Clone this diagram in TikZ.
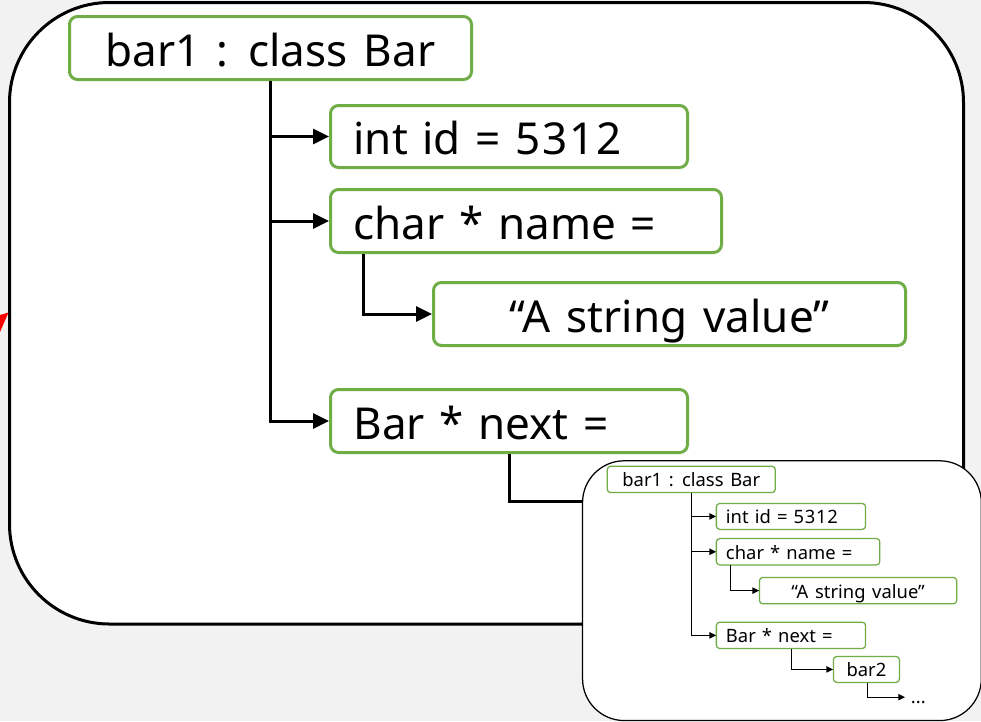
\documentclass[tikz,border=0pt]{standalone}
\usepackage{fontspec}
\setmainfont{Noto Sans}[WordSpace=1.4]
\usetikzlibrary{arrows.meta,calc}
\definecolor{boxgreen}{HTML}{70AD47}
\definecolor{pagegray}{HTML}{F2F2F2}
\newcommand\bigfont{\fontsize{44}{52}\selectfont}
\newcommand\digitfont{\addfontfeatures{LetterSpace=4}}

% Object graph of bar1; #1 = name prefix, #2 = line/radius factor,
% #3 = 1 to draw the bar2 tail, 0 to leave it open
\newcommand\objgraph[3]{%
  \pgfmathsetmacro\lw{3*#2}%
  \pgfmathsetmacro\alen{16*#2}%
  \pgfmathsetmacro\awid{15*#2}%
  \pgfmathsetmacro\rr{8*#2}%
  \pgfmathsetmacro\rbig{100*#2}%
  \begin{scope}[
    conn/.style={line width=\lw pt, -{Triangle[length=\alen pt,width=\awid pt]}},
    gbox/.style={draw=boxgreen, fill=white, line width=\lw pt, rounded corners=\rr pt,
      anchor=north west, inner xsep=23pt, inner ysep=0pt, font=\bigfont,
      text height=36pt, text depth=0pt},
    field/.style={gbox, align=left, text width=##1},
    cbox/.style={gbox, align=center, minimum width=##1}]
  % frame
  \draw[line width=\lw pt, fill=white, rounded corners=\rbig pt]
    (9.5,2.5) rectangle (963.5,624);
  % boxes
  \node[cbox=402pt, minimum height=63pt] (#1bar1) at (68,15) {bar1 : class Bar};
  \node[field=311pt, minimum height=62pt] (#1id) at (329,104) {int id = {\digitfont 5312}};
  \node[field=345pt, minimum height=63pt] (#1name) at (329,188) {char * name =};
  \node[cbox=472pt, minimum height=63pt] (#1str) at (432,281) {“A string value”};
  \node[field=311pt, minimum height=63pt] (#1next) at (329,388) {Bar * next =};
  % connectors
  \draw[conn] (#1bar1.south) |- (#1id.west);
  \draw[conn] (#1bar1.south) |- (#1name.west);
  \draw[conn] (#1bar1.south) |- (#1next.west);
  \draw[conn] ($(#1name.south west)!0.087!(#1name.south east)$) |- (#1str.west);
  \ifnum#3=1
    \node[cbox=158pt, minimum height=62pt] (#1bar2) at (609,470) {bar2};
    \coordinate (#1more) at (781,568);
    \node[font=\bigfont, anchor=base west, inner sep=0pt] (#1dots) at (795,584) {...};
    \draw[conn] ($(#1next.south west)!0.501!(#1next.south east)$) |- (#1bar2.west);
    \draw[conn] ($(#1bar2.south west)!0.513!(#1bar2.south east)$) |- (#1more);
  \else
    \coordinate (#1bar2in) at (640,501);
    \draw[line width=\lw pt] ($(#1next.south west)!0.501!(#1next.south east)$) |- (#1bar2in);
  \fi
  \end{scope}}

\begin{document}
\begin{tikzpicture}[x=1pt, y=-1pt]
  \fill[pagegray] (0,0) rectangle (981,721);
  \useasboundingbox (0,0) rectangle (981,721);
  \objgraph{m}{1}{0}
  % incoming red pointer tip at the left edge
  \fill[red] (0,315) -- (8.5,312.5) -- (0,332) -- cycle;
  % nested view of the same object
  \begin{scope}[shift={(578.58,459.73)}, scale=0.418, transform shape]
    \objgraph{s}{0.418}{1}
  \end{scope}
\end{tikzpicture}
\end{document}
